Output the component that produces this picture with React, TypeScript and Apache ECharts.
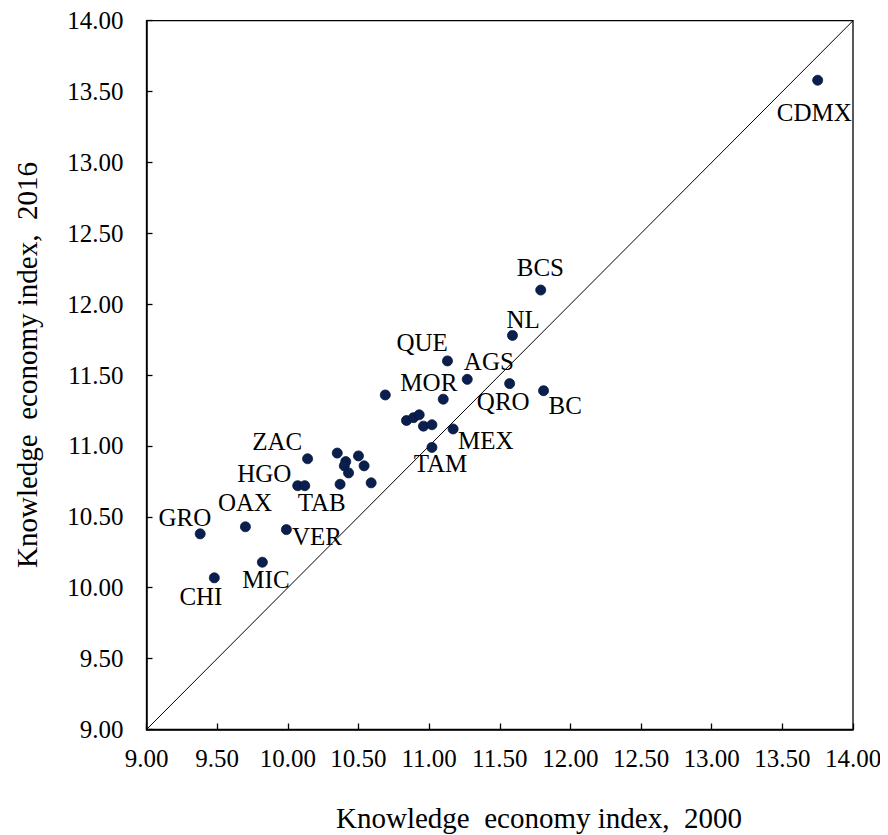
import React, { useEffect, useRef } from "react";
import * as echarts from "echarts";

const stateNames = [
  "GRO", "CHI", "OAX", "MIC", "VER", "ZAC", "HGO", "", "TAB", "", "", "", "", "", "", "",
  "", "", "", "", "", "", "TAM", "MEX", "MOR", "QUE", "AGS", "QRO", "BC", "NL", "BCS", "CDMX",
];
const index2000 = [
  9.38, 9.48, 9.70, 9.82, 9.99, 10.14, 10.07, 10.12, 10.37, 10.35, 10.41, 10.40, 10.43, 10.50, 10.54, 10.59,
  10.69, 10.84, 10.89, 10.93, 10.96, 11.02, 11.02, 11.17, 11.10, 11.13, 11.27, 11.57, 11.81, 11.59, 11.79, 13.75,
];
const index2016 = [
  10.38, 10.07, 10.43, 10.18, 10.41, 10.91, 10.72, 10.72, 10.73, 10.95, 10.89, 10.86, 10.81, 10.93, 10.86, 10.74,
  11.36, 11.18, 11.20, 11.22, 11.14, 11.15, 10.99, 11.12, 11.33, 11.60, 11.47, 11.44, 11.39, 11.78, 12.10, 13.58,
];
const diagonal = [9, 14];
const axisMin = 9;
const axisMax = 14;
const tickStep = 0.5;

// label placement (layout, not data): text centre relative to dot centre
const labelOffsets: Record<string, [number, number]> = {
  GRO: [-15, -16], CHI: [-13, 19], OAX: [0, -24], MIC: [4, 18], VER: [31, 7],
  ZAC: [-30, -17], HGO: [-33, -12], TAB: [-18, 19], TAM: [9, 17], MEX: [33, 12],
  MOR: [-14, -16], QUE: [-25, -18], AGS: [22, -17], QRO: [-6, 18], BC: [22, 15],
  NL: [11, -16], BCS: [0, -22], CDMX: [-3, 33],
};

const FONT = "'Liberation Serif', 'Times New Roman', serif";
const DOT = 10;

export default function App() {
  const ref = useRef<HTMLDivElement>(null);
  useEffect(() => {
    if (!ref.current) return;
    const chart = echarts.init(ref.current, null, { renderer: "svg" });
    const points = stateNames.map((n, i) => {
      const off = labelOffsets[n] || [0, 0];
      return {
        value: [index2000[i], index2016[i]],
        name: n,
        label: n
          ? {
              show: true,
              position: [DOT / 2 + off[0], DOT / 2 + off[1]],
              align: "center",
              verticalAlign: "middle",
              formatter: n,
              color: "#000",
              fontFamily: FONT,
              fontSize: 25,
            }
          : { show: false },
      };
    });
    chart.setOption({
      animation: false,
      backgroundColor: "#fff",
      grid: {
        left: 146.5,
        right: 35,
        top: 20.7,
        bottom: 105.5,
        show: true,
        borderColor: "#000",
        borderWidth: 1.3,
        backgroundColor: "transparent",
      },
      xAxis: {
        type: "value",
        min: axisMin,
        max: axisMax,
        interval: tickStep,
        axisLine: { show: true, lineStyle: { color: "#000", width: 1.5 } },
        axisTick: { show: true, inside: true, length: 6, lineStyle: { color: "#000", width: 1.3 } },
        splitLine: { show: false },
        axisLabel: {
          color: "#000",
          fontFamily: FONT,
          fontSize: 25,
          margin: 16,
          formatter: (v: number) => v.toFixed(2),
        },
      },
      yAxis: {
        type: "value",
        min: axisMin,
        max: axisMax,
        interval: tickStep,
        axisLine: { show: true, lineStyle: { color: "#000", width: 1.5 } },
        axisTick: { show: true, inside: true, length: 6, lineStyle: { color: "#000", width: 1.3 } },
        splitLine: { show: false },
        axisLabel: {
          color: "#000",
          fontFamily: FONT,
          fontSize: 25,
          margin: 23,
          formatter: (v: number) => v.toFixed(2),
        },
      },
      series: [
        {
          type: "line",
          data: [
            [diagonal[0], diagonal[0]],
            [diagonal[1], diagonal[1]],
          ],
          symbol: "none",
          silent: true,
          lineStyle: { color: "#000", width: 1 },
          z: 1,
        },
        {
          type: "scatter",
          data: points,
          symbol: "circle",
          symbolSize: DOT,
          itemStyle: { color: "#0a1f4f", borderColor: "#061533", borderWidth: 0.8, opacity: 1 },
          labelLayout: { hideOverlap: false },
          z: 3,
        },
      ],
      graphic: [
        {
          type: "text",
          x: 539,
          y: 818,
          style: {
            text: "Knowledge  economy index,  2000",
            fontFamily: FONT,
            fontSize: 29,
            fill: "#000",
            align: "center",
            verticalAlign: "middle",
          },
        },
        {
          type: "text",
          x: 27,
          y: 365,
          rotation: Math.PI / 2,
          style: {
            text: "Knowledge  economy index,  2016",
            fontFamily: FONT,
            fontSize: 29,
            fill: "#000",
            align: "center",
            verticalAlign: "middle",
          },
        },
      ],
    });
    return () => chart.dispose();
  }, []);
  return <div ref={ref} style={{ width: 888, height: 835, marginLeft: -8, marginTop: -8 }} />;
}
